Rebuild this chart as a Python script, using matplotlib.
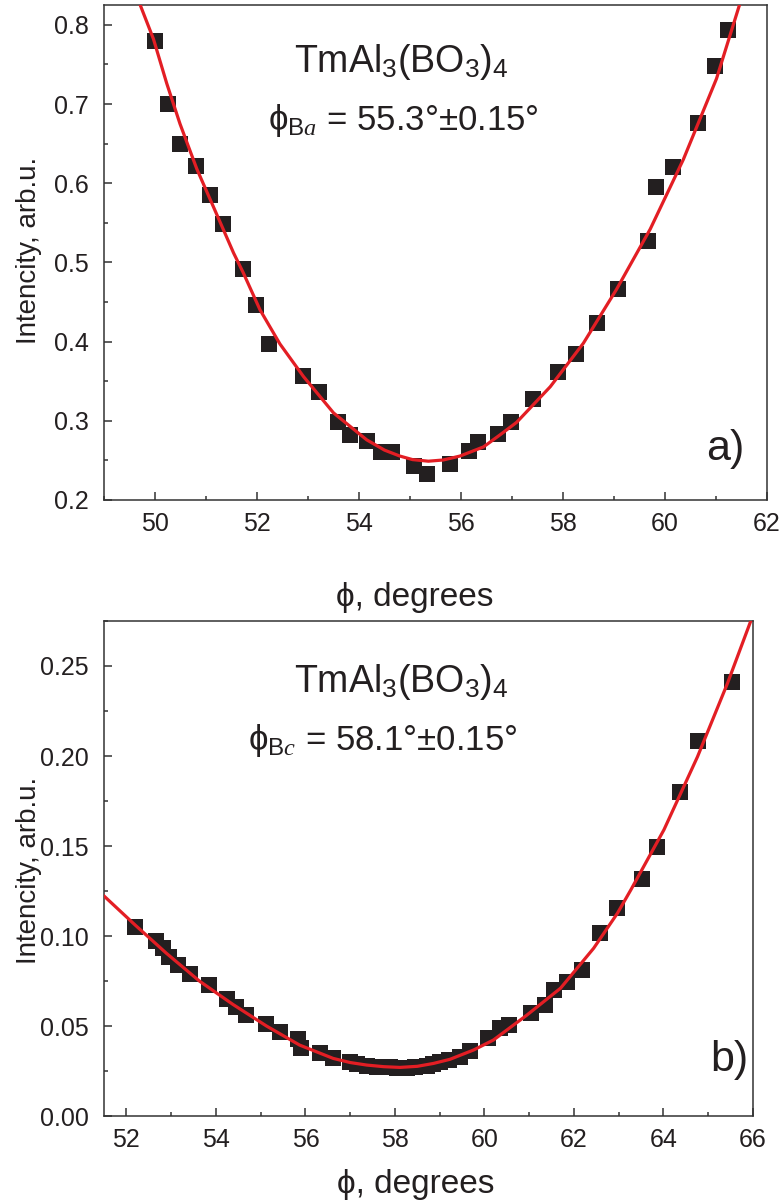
#!/usr/bin/env python3
# Brewster angle scans of TmAl3(BO3)4: two stacked panels, points + fit curve

import matplotlib
matplotlib.use("Agg")
import matplotlib.pyplot as plt
from matplotlib.ticker import MultipleLocator

# ----------------------------
# Data
# ----------------------------
# panel a) measured points
phi_a = [50.00, 50.25, 50.50, 50.80, 51.08, 51.34, 51.72, 51.99, 52.24, 52.91,
         53.22, 53.59, 53.82, 54.16, 54.44, 54.64, 55.08, 55.33, 55.78, 56.16,
         56.34, 56.72, 56.99, 57.42, 57.91, 58.25, 58.66, 59.08, 59.66, 59.82,
         60.16, 60.65, 60.99, 61.24]
int_a = [0.780, 0.700, 0.649, 0.622, 0.585, 0.548, 0.492, 0.446, 0.397, 0.357,
         0.336, 0.299, 0.282, 0.275, 0.261, 0.260, 0.243, 0.233, 0.246, 0.262,
         0.273, 0.283, 0.299, 0.327, 0.362, 0.384, 0.424, 0.467, 0.527, 0.595,
         0.620, 0.676, 0.748, 0.794]
# panel a) fit curve
fit_phi_a = [49.71, 49.97, 50.23, 50.49, 50.82, 51.14, 51.54, 51.73, 52.06, 52.45,
             52.91, 53.50, 54.15, 54.50, 54.80, 55.05, 55.36, 55.65, 55.98, 56.44,
             56.76, 57.09, 57.75, 58.40, 59.05, 59.71, 60.36, 61.01, 61.46]
fit_int_a = [0.825, 0.782, 0.726, 0.675, 0.618, 0.571, 0.512, 0.487, 0.440, 0.397,
             0.356, 0.310, 0.276, 0.263, 0.2555, 0.2510, 0.2490, 0.2505, 0.2555, 0.267,
             0.282, 0.298, 0.343, 0.398, 0.466, 0.542, 0.630, 0.732, 0.825]

# panel b) measured points
phi_b = [52.20, 52.66, 52.81, 52.96, 53.16, 53.43, 53.84, 54.25, 54.46, 54.67,
         55.13, 55.43, 55.83, 55.91, 56.32, 56.62, 56.99, 57.15, 57.37, 57.60,
         57.89, 58.05, 58.26, 58.45, 58.71, 58.85, 59.01, 59.20, 59.45, 59.68,
         60.09, 60.35, 60.54, 61.03, 61.36, 61.55, 61.85, 62.18, 62.59, 62.97,
         63.52, 63.86, 64.36, 64.77, 65.54]
int_b = [0.1050, 0.0974, 0.0931, 0.0885, 0.0839, 0.0789, 0.0728, 0.0648, 0.0604, 0.0561,
         0.0511, 0.0469, 0.0430, 0.0376, 0.0348, 0.0320, 0.0298, 0.0290, 0.0278, 0.0275,
         0.0270, 0.0268, 0.0265, 0.0270, 0.0278, 0.0290, 0.0302, 0.0310, 0.0330, 0.0360,
         0.0432, 0.0487, 0.0506, 0.0571, 0.0617, 0.0700, 0.0746, 0.0811, 0.1015, 0.1154,
         0.1315, 0.1496, 0.1798, 0.2083, 0.2413]
# panel b) fit curve
fit_phi_b = [51.51, 52.20, 52.89, 53.63, 54.38, 55.13, 55.87, 56.62, 57.00, 57.37,
             57.75, 58.11, 58.50, 58.86, 59.23, 59.76, 60.20, 60.95, 61.70, 62.44,
             62.97, 63.27, 64.01, 64.76, 65.43, 65.95]
fit_int_b = [0.1220, 0.1060, 0.0905, 0.0750, 0.0620, 0.0500, 0.0394, 0.0320, 0.0297, 0.0283,
             0.0274, 0.0270, 0.0276, 0.0292, 0.0315, 0.0367, 0.0422, 0.0561, 0.0710, 0.0932,
             0.1126, 0.1256, 0.1590, 0.1996, 0.2404, 0.2750]

# ----------------------------
# Style
# ----------------------------
plt.rcParams.update({
    "font.family": ["Liberation Sans", "DejaVu Sans"],
    "mathtext.fontset": "custom",
    "mathtext.rm": "Liberation Sans",
    "mathtext.it": "Liberation Serif:italic",
    "mathtext.fallback": "stixsans",
    "axes.linewidth": 1.1,
    "axes.edgecolor": "#333333",
    "xtick.direction": "in",
    "ytick.direction": "in",
    "xtick.major.size": 6,
    "ytick.major.size": 6,
    "xtick.minor.size": 3.2,
    "ytick.minor.size": 3.2,
    "xtick.major.width": 1.1,
    "ytick.major.width": 1.1,
    "xtick.minor.width": 1.1,
    "ytick.minor.width": 1.1,
    "xtick.color": "#333333",
    "ytick.color": "#333333",
    "xtick.labelcolor": "#231f20",
    "ytick.labelcolor": "#231f20",
    "xtick.labelsize": 18,
    "ytick.labelsize": 18,
    "xtick.major.pad": 8.5,
    "ytick.major.pad": 11,
})

DOT = "#231f20"
RED = "#e31e24"
NOTE_FS = 27

fig = plt.figure(figsize=(7.84, 12.04), dpi=100)
ax_a = fig.add_axes([104 / 784, 1 - 500 / 1204, 663 / 784, 495 / 1204])
ax_b = fig.add_axes([104 / 784, 1 - 1116 / 1204, 649 / 784, 495 / 1204])


def draw_panel(ax, px, py, fx, fy):
    ax.plot(fx, fy, "-", color=RED, lw=2.3, zorder=3)
    ax.plot(px, py, "s", color=DOT, ms=11.5, mec=DOT, mew=0, zorder=2)


draw_panel(ax_a, phi_a, int_a, fit_phi_a, fit_int_a)
draw_panel(ax_b, phi_b, int_b, fit_phi_b, fit_int_b)

# panel a) axes
ax_a.set_xlim(49, 62)
ax_a.set_ylim(0.2, 0.825)
ax_a.xaxis.set_major_locator(MultipleLocator(2))
ax_a.xaxis.set_minor_locator(MultipleLocator(1))
ax_a.yaxis.set_major_locator(MultipleLocator(0.1))
ax_a.yaxis.set_minor_locator(MultipleLocator(0.05))
ax_a.yaxis.set_major_formatter(lambda v, p: f"{v:.1f}")

# panel b) axes
ax_b.set_xlim(51.5, 66)
ax_b.set_ylim(0.0, 0.275)
ax_b.xaxis.set_major_locator(MultipleLocator(2))
ax_b.xaxis.set_minor_locator(MultipleLocator(1))
ax_b.yaxis.set_major_locator(MultipleLocator(0.05))
ax_b.yaxis.set_minor_locator(MultipleLocator(0.025))
ax_b.yaxis.set_major_formatter(lambda v, p: f"{v:.2f}")

for ax in (ax_a, ax_b):
    ax.tick_params(which="both", top=False, right=False)
    ax.set_xlabel("ϕ, degrees", fontsize=24, color=DOT)
    ax.set_ylabel("Intencity, arb.u.", fontsize=20, color=DOT)

ax_a.xaxis.set_label_coords(0.469, -0.165)
ax_a.yaxis.set_label_coords(-0.0935, 0.505)
ax_b.xaxis.set_label_coords(0.481, -0.108)
ax_b.yaxis.set_label_coords(-0.0955, 0.497)

# annotations
ax_a.text(0.449, 0.865, r"TmAl$_3$(BO$_3$)$_4$", transform=ax_a.transAxes,
          ha="center", va="baseline", fontsize=NOTE_FS, color=DOT)
ax_a.text(0.451, 0.747, r"ϕ$_{\mathrm{B}\mathit{a}}$ = 55.3°±0.15°", transform=ax_a.transAxes,
          ha="center", va="baseline", fontsize=NOTE_FS - 2, color=DOT)
ax_a.text(0.937, 0.081, "a)", transform=ax_a.transAxes,
          ha="center", va="baseline", fontsize=31, color=DOT)

ax_b.text(0.458, 0.857, r"TmAl$_3$(BO$_3$)$_4$", transform=ax_b.transAxes,
          ha="center", va="baseline", fontsize=NOTE_FS, color=DOT)
ax_b.text(0.429, 0.739, r"ϕ$_{\mathrm{B}\mathit{c}}$ = 58.1°±0.15°", transform=ax_b.transAxes,
          ha="center", va="baseline", fontsize=NOTE_FS - 2, color=DOT)
ax_b.text(0.964, 0.091, "b)", transform=ax_b.transAxes,
          ha="center", va="baseline", fontsize=31, color=DOT)

fig.savefig("out.png", dpi=100)
